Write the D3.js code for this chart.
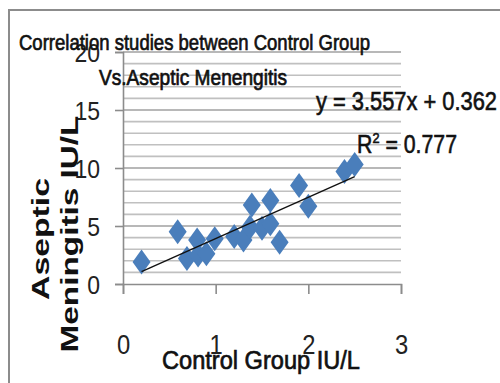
<!DOCTYPE html>
<html><head><meta charset="utf-8">
<script src="https://cdn.jsdelivr.net/npm/d3@7/dist/d3.min.js"></script>
<style>body{margin:0;background:#fff}svg{display:block}</style>
</head><body>
<svg id="c" width="500" height="383"></svg>
<script>
const controlX = [0.20,0.59,0.69,0.80,0.81,0.90,0.99,1.20,1.30,1.39,1.37,1.50,1.59,1.59,1.69,1.90,2.00,2.39,2.50];
const asepticY = [1.9,4.5,2.2,3.8,2.5,2.6,3.9,4.1,3.8,6.8,4.9,4.8,7.2,5.2,3.6,8.5,6.7,9.7,10.3];
const xTicks = [0,1,2,3];
const yTicks = [0,5,10,15,20];
const slope = 3.557, intercept = 0.362;
const titleLines = ["Correlation studies between Control Group","Vs.Aseptic Menengitis"];
const eqText = "y = 3.557x + 0.362";
const r2Value = "0.777";
const xTitle = "Control Group IU/L";
const yTitleLines = ["Aseptic","Meningitis IU/L"];

const svg = d3.select("#c");
const FONT = "'Liberation Sans', Arial, sans-serif";
const x = d3.scaleLinear().domain([0,3]).range([123,401]);
const y = d3.scaleLinear().domain([0,20]).range([284,52]);

// frame
svg.append("rect").attr("x",9).attr("y",10).attr("width",520).attr("height",400)
  .attr("fill","none").attr("stroke","#8c8c8c").attr("stroke-width",2);

// gridlines
const grid = d3.range(1,21);
svg.append("g").selectAll("line").data(grid).join("line")
  .attr("x1",x(0)).attr("x2",x(3)).attr("y1",d=>y(d)).attr("y2",d=>y(d))
  .attr("stroke",d=>d%5===0?"#a0a0a0":"#c0c0c0").attr("stroke-width",1.6);

// y axis
const yAxis = d3.axisLeft(y).tickValues(yTicks).tickSize(8).tickFormat(d3.format("d"));
const gy = svg.append("g").attr("transform",`translate(${x(0)},0)`).call(yAxis);
gy.select(".domain").attr("stroke","#8c8c8c").attr("stroke-width",1.6);
gy.selectAll(".tick line").attr("stroke","#8c8c8c").attr("stroke-width",1.6);
gy.selectAll(".tick text").attr("x",-23).attr("dy","0.36em")
  .attr("font-family",FONT).attr("font-size",25).attr("fill","#222")
  .attr("transform","scale(0.92,1)").attr("transform-origin","-23 0");

// x axis
const xAxis = d3.axisBottom(x).tickValues(xTicks).tickSize(10).tickFormat(d3.format("d"));
const gx = svg.append("g").attr("transform",`translate(0,${y(0)})`).call(xAxis);
gx.select(".domain").attr("stroke","#8c8c8c").attr("stroke-width",1.6);
gx.selectAll(".tick line").attr("stroke","#8c8c8c").attr("stroke-width",1.6);
gx.selectAll(".tick text").attr("y",70).attr("dy",0)
  .attr("font-family",FONT).attr("font-size",28).attr("fill","#222")
  .attr("transform","scale(0.85,1)");

// points
const data = controlX.map((v,i)=>({x:v,y:asepticY[i]}));
svg.append("g").selectAll("path").data(data).join("path")
  .attr("transform",d=>`translate(${x(d.x)},${y(d.y)})`)
  .attr("d","M0,-12.5L9,0L0,12.5L-9,0Z")
  .attr("fill","#4a7ebb");

// trendline
const [xmin,xmax] = d3.extent(controlX);
svg.append("line")
  .attr("x1",x(xmin)).attr("y1",y(slope*xmin+intercept))
  .attr("x2",x(xmax)).attr("y2",y(slope*xmax+intercept))
  .attr("stroke","#111").attr("stroke-width",1.4);

function fitText(sel, len){ sel.attr("textLength",len).attr("lengthAdjust","spacingAndGlyphs"); return sel; }
function heavy(sel, w){ return sel.attr("stroke","#111").attr("stroke-width",w).attr("paint-order","stroke"); }

// title
heavy(fitText(svg.append("text").attr("x",19).attr("y",50).attr("font-family",FONT).attr("font-size",22).attr("fill","#111").text(titleLines[0]),351),0.7);
heavy(fitText(svg.append("text").attr("x",99).attr("y",85).attr("font-family",FONT).attr("font-size",22).attr("fill","#111").text(titleLines[1]),188),0.7);

// equation
heavy(fitText(svg.append("text").attr("x",316).attr("y",110).attr("font-family",FONT).attr("font-size",25).attr("fill","#111").text(eqText),181),0.6);
const r2 = svg.append("text").attr("x",357).attr("y",153).attr("font-family",FONT).attr("font-size",25).attr("fill","#111");
r2.append("tspan").text("R");
r2.append("tspan").attr("font-size",15).attr("dy",-10).text("2");
r2.append("tspan").attr("dy",10).text(" = "+r2Value);
heavy(fitText(r2,100),0.6);

// x title
heavy(fitText(svg.append("text").attr("x",162).attr("y",369).attr("font-family",FONT).attr("font-size",26).attr("fill","#111").text(xTitle),198),0.7);

// y title
const yt = svg.append("g").attr("transform","rotate(-90)");
fitText(yt.append("text").attr("x",-239).attr("y",49).attr("text-anchor","middle").attr("font-family",FONT).attr("font-weight","bold").attr("font-size",23).attr("fill","#111").text(yTitleLines[0]),122);
fitText(yt.append("text").attr("x",-234).attr("y",78).attr("text-anchor","middle").attr("font-family",FONT).attr("font-weight","bold").attr("font-size",23).attr("fill","#111").text(yTitleLines[1]),237);
</script>
</body></html>
